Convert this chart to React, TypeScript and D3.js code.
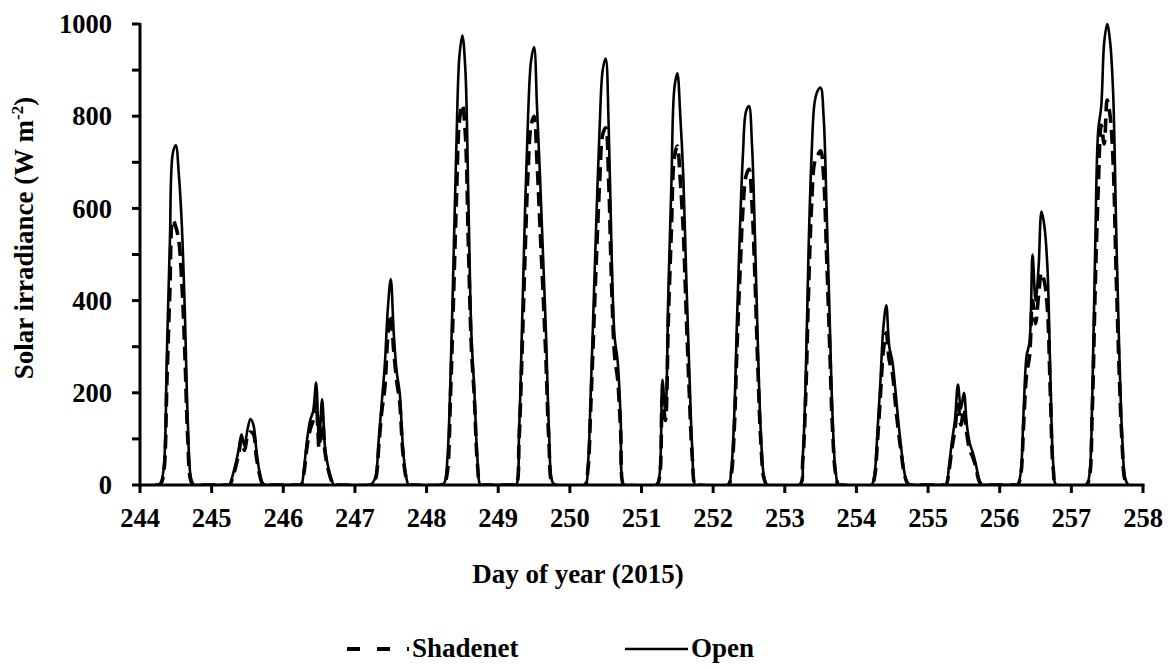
import * as d3 from 'd3';
import React from 'react';

// Day of year, and the hours of each day for which values were read (5:00 .. 19:00).
const days: number[] = [244, 245, 246, 247, 248, 249, 250, 251, 252, 253, 254, 255, 256, 257];
const hours: number[] = [5, 6, 7, 8, 9, 10, 11, 12, 13, 14, 15, 16, 17, 18, 19];

// Open field solar irradiance (W m-2), one row per day, one value per hour above.
const openValues: number[][] = [
    [0, 0, 5, 40, 285, 525, 720, 737, 675, 565, 380, 140, 18, 0, 0],
    [0, 0, 20, 45, 75, 110, 85, 120, 143, 130, 75, 30, 5, 0, 0],
    [0, 0, 40, 100, 140, 160, 222, 90, 186, 80, 40, 15, 0, 0, 0],
    [0, 5, 20, 100, 180, 260, 380, 447, 330, 245, 200, 90, 25, 0, 0],
    [0, 5, 60, 230, 480, 740, 930, 975, 900, 620, 330, 205, 60, 0, 0],
    [0, 0, 120, 350, 600, 800, 920, 950, 820, 670, 500, 330, 120, 10, 0],
    [0, 40, 200, 400, 600, 780, 900, 925, 780, 500, 320, 270, 150, 0, 0],
    [0, 20, 228, 160, 420, 650, 860, 893, 800, 670, 450, 250, 80, 0, 0],
    [0, 30, 140, 360, 560, 720, 810, 822, 740, 540, 300, 110, 20, 0, 0],
    [0, 60, 230, 520, 720, 830, 855, 862, 800, 600, 370, 150, 30, 0, 0],
    [0, 20, 110, 220, 340, 390, 300, 270, 210, 140, 80, 30, 5, 0, 0],
    [0, 0, 40, 95, 140, 218, 165, 200, 130, 90, 70, 45, 15, 0, 0],
    [0, 0, 25, 160, 280, 310, 500, 400, 470, 593, 560, 470, 230, 40, 0],
    [0, 20, 190, 520, 770, 820, 960, 1000, 960, 850, 560, 300, 110, 15, 0],
];

// Under the shadenet.
const shadeValues: number[][] = [
    [0, 0, 3, 30, 220, 420, 575, 560, 530, 440, 290, 100, 10, 0, 0],
    [0, 0, 15, 38, 65, 98, 75, 105, 115, 110, 60, 25, 3, 0, 0],
    [0, 0, 30, 85, 120, 140, 180, 80, 155, 70, 35, 12, 0, 0, 0],
    [0, 3, 15, 85, 160, 210, 320, 370, 290, 225, 180, 75, 20, 0, 0],
    [0, 3, 30, 190, 400, 620, 790, 825, 760, 520, 300, 190, 50, 0, 0],
    [0, 0, 100, 290, 500, 680, 780, 800, 700, 560, 420, 270, 90, 5, 0],
    [0, 30, 170, 340, 510, 660, 760, 775, 660, 430, 280, 230, 120, 0, 0],
    [0, 15, 190, 140, 360, 550, 710, 735, 660, 550, 370, 200, 60, 0, 0],
    [0, 20, 110, 300, 460, 600, 670, 685, 610, 450, 250, 90, 15, 0, 0],
    [0, 50, 190, 430, 610, 700, 715, 725, 670, 500, 310, 120, 25, 0, 0],
    [0, 15, 90, 190, 290, 330, 270, 245, 180, 120, 70, 25, 5, 0, 0],
    [0, 0, 30, 80, 120, 175, 130, 165, 110, 75, 60, 40, 10, 0, 0],
    [0, 0, 20, 130, 240, 280, 400, 350, 410, 460, 440, 380, 190, 30, 0],
    [0, 15, 160, 430, 640, 780, 740, 835, 800, 700, 460, 250, 90, 10, 0],
];

const xTicks: number[] = [244, 245, 246, 247, 248, 249, 250, 251, 252, 253, 254, 255, 256, 257, 258];
const yTicks: number[] = [0, 100, 200, 300, 400, 500, 600, 700, 800, 900, 1000];
const yLabels: number[] = [0, 200, 400, 600, 800, 1000];

const FONT = '"Liberation Serif", "Times New Roman", serif';

type Pt = [number, number];

const toSeries = (rows: number[][]): Pt[] => {
    const pts: Pt[] = [];
    rows.forEach((row, i) => {
        row.forEach((v, j) => {
            pts.push([days[i] + hours[j] / 24, v]);
        });
    });
    return pts;
};

const App = (): React.ReactElement => {
    const width = 1176;
    const height = 669;

    const x = d3.scaleLinear().domain([244, 258]).range([140, 1143]);
    const y = d3.scaleLinear().domain([0, 1000]).range([485, 24]);

    const line = d3
        .line<Pt>()
        .x((d) => x(d[0]))
        .y((d) => y(d[1]))
        .curve(d3.curveCatmullRom.alpha(0.5));

    const openPath = line(toSeries(openValues)) || '';
    const shadePath = line(toSeries(shadeValues)) || '';

    return (
        <svg
            width={width}
            height={height}
            style={{ position: 'absolute', left: 0, top: 0, background: '#fff' }}
            fontFamily={FONT}
            fontWeight="bold"
        >
            <defs>
                <clipPath id="plotClip">
                    <rect x={x(244)} y={0} width={x(258) - x(244)} height={y(0)} />
                </clipPath>
            </defs>

            {/* series */}
            <g clipPath="url(#plotClip)" fill="none" stroke="#000">
                <path d={shadePath} strokeWidth={3.6} strokeDasharray="14,7" />
                <path d={openPath} strokeWidth={2.6} />
            </g>

            {/* y axis */}
            <g stroke="#000" strokeWidth={3}>
                <line x1={x(244)} x2={x(244)} y1={y(1000) - 1} y2={y(0) + 1.5} />
                {yTicks.map((t) => (
                    <line key={t} x1={x(244) - 8} x2={x(244)} y1={y(t)} y2={y(t)} />
                ))}
            </g>
            {yLabels.map((t) => (
                <text key={t} x={112} y={y(t)} dy="0.35em" textAnchor="end" fontSize={26.5}>
                    {t}
                </text>
            ))}

            {/* x axis */}
            <g stroke="#000" strokeWidth={3}>
                <line x1={x(244) - 1.5} x2={x(258) + 1.5} y1={y(0)} y2={y(0)} />
                {xTicks.map((t) => (
                    <line key={t} x1={x(t)} x2={x(t)} y1={y(0)} y2={y(0) + 8} />
                ))}
            </g>
            {xTicks.map((t) => (
                <text key={t} x={x(t)} y={527} textAnchor="middle" fontSize={26.5}>
                    {t}
                </text>
            ))}

            {/* axis titles */}
            <text x={578} y={583} textAnchor="middle" fontSize={27}>
                Day of year (2015)
            </text>
            <text transform="translate(33,238) rotate(-90)" textAnchor="middle" fontSize={27}>
                Solar irradiance (W m
                <tspan dy={-10} fontSize={17}>
                    -2
                </tspan>
                <tspan dy={10}>)</tspan>
            </text>

            {/* legend */}
            <line x1={347} x2={409} y1={649} y2={649} stroke="#000" strokeWidth={4} strokeDasharray="13,17" />
            <text x={412} y={657} fontSize={27}>
                Shadenet
            </text>
            <line x1={625} x2={688} y1={649} y2={649} stroke="#000" strokeWidth={2.6} />
            <text x={691} y={657} fontSize={27}>
                Open
            </text>
        </svg>
    );
};

export default App;
